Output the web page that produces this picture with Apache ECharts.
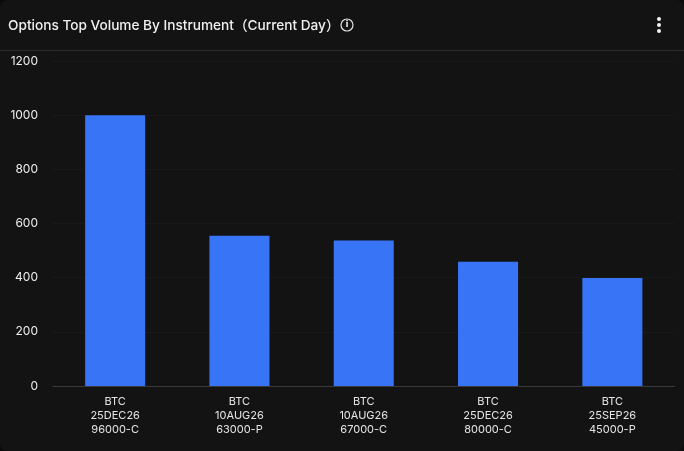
<!DOCTYPE html>
<html><head><meta charset="utf-8">
<style>html,body{margin:0;padding:0;background:#0b0b0b;overflow:hidden}#c{width:684px;height:451px}</style>
<script src="https://cdn.jsdelivr.net/npm/echarts@6/dist/echarts.min.js"></script>
</head><body><div id="c"></div>
<script>
const titleText = 'Options Top Volume By Instrument（Current Day）';
const categories = ['BTC\n25DEC26\n96000-C','BTC\n10AUG26\n63000-P','BTC\n10AUG26\n67000-C','BTC\n25DEC26\n80000-C','BTC\n25SEP26\n45000-P'];
const volumes = [1000, 555, 537, 459, 399];
const yMax = 1200, yStep = 200;
const chart = echarts.init(document.getElementById('c'), null, {renderer:'canvas'});
chart.setOption({
  animation:false,
  backgroundColor:'transparent',
  title:{text:titleText,left:8,top:17,padding:0,textStyle:{color:'#f0f0f0',fontSize:13.65,fontWeight:500,fontFamily:'Inter, "Noto Sans CJK SC"',lineHeight:17}},
  graphic:[
    {type:'rect',z:-10,shape:{x:0,y:0,width:684,height:451,r:8},style:{fill:'#131313'}},
    {type:'line',z:-5,shape:{x1:0,y1:50.5,x2:684,y2:50.5},style:{stroke:'#2a2a30',lineWidth:1}},
    {type:'circle',shape:{cx:347,cy:25,r:6},style:{fill:'none',stroke:'#e4e4e4',lineWidth:1.2}},
    {type:'text',x:347,y:25,style:{text:'i',fill:'#e4e4e4',font:'bold 9px "DejaVu Sans"',align:'center',verticalAlign:'middle'}},
    {type:'circle',shape:{cx:659,cy:19,r:2},style:{fill:'#f2f2f2'}},
    {type:'circle',shape:{cx:659,cy:25,r:2},style:{fill:'#f2f2f2'}},
    {type:'circle',shape:{cx:659,cy:31,r:2},style:{fill:'#f2f2f2'}}
  ],
  grid:{left:53,right:9.5,top:61,bottom:65,containLabel:false},
  xAxis:{type:'category',data:categories,
    axisTick:{show:false},
    axisLine:{lineStyle:{color:'#3a3a3d',width:1}},
    axisLabel:{color:'#e6e6e6',fontSize:11,fontFamily:'Inter',lineHeight:14,margin:9,interval:0}},
  yAxis:{type:'value',min:0,max:yMax,interval:yStep,
    axisLine:{show:false},axisTick:{show:false},
    splitLine:{lineStyle:{color:'#191919',width:1}},
    axisLabel:{color:'#eeeeee',fontSize:12,fontFamily:'Inter',margin:15,formatter:function(v){return String(v);}}},
  series:[{type:'bar',data:volumes,barWidth:'48.3%',itemStyle:{color:'#3875f6'}}]
});
</script></body></html>
